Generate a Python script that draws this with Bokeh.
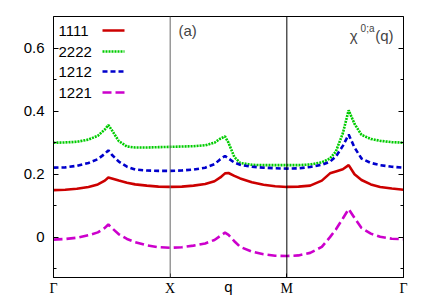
from bokeh.plotting import figure
from bokeh.models import Range1d, LinearAxis, FixedTicker, Span, Label, Arrow, CustomJSTickFormatter
from bokeh.embed import file_html
from bokeh.resources import INLINE

# path coordinate along Gamma-X-M-Gamma (each segment of unit length)
kpath = [0.00, 0.10, 0.20, 0.30, 0.38, 0.44, 0.47, 0.50, 0.56, 0.63, 0.70, 0.80, 0.90,
         1.00, 1.10, 1.20, 1.30, 1.38, 1.43, 1.47, 1.50, 1.55, 1.60, 1.70, 1.80, 1.90,
         2.00, 2.10, 2.20, 2.30, 2.37, 2.42, 2.48, 2.53, 2.58, 2.64, 2.72, 2.80, 2.90, 3.00]

chi_1111 = [0.150, 0.151, 0.154, 0.160, 0.168, 0.180, 0.190, 0.187, 0.180, 0.173, 0.168, 0.164, 0.161,
            0.160, 0.161, 0.164, 0.169, 0.178, 0.190, 0.203, 0.204, 0.195, 0.187, 0.175, 0.167, 0.162,
            0.160, 0.161, 0.164, 0.180, 0.203, 0.209, 0.216, 0.229, 0.200, 0.182, 0.168, 0.160, 0.155, 0.151]

chi_2222 = [0.300, 0.301, 0.303, 0.310, 0.322, 0.342, 0.356, 0.340, 0.305, 0.288, 0.285, 0.285, 0.286,
            0.287, 0.288, 0.289, 0.292, 0.300, 0.313, 0.320, 0.300, 0.255, 0.236, 0.230, 0.229, 0.229,
            0.229, 0.229, 0.231, 0.238, 0.250, 0.272, 0.330, 0.403, 0.360, 0.325, 0.312, 0.306, 0.302, 0.300]

chi_1212 = [0.221, 0.222, 0.227, 0.236, 0.248, 0.265, 0.276, 0.262, 0.240, 0.224, 0.215, 0.212, 0.211,
            0.211, 0.212, 0.215, 0.221, 0.232, 0.248, 0.258, 0.250, 0.237, 0.230, 0.224, 0.221, 0.219,
            0.218, 0.219, 0.223, 0.230, 0.240, 0.256, 0.290, 0.326, 0.285, 0.250, 0.236, 0.229, 0.224, 0.221]

chi_1221 = [-0.007, -0.005, -0.001, 0.007, 0.016, 0.030, 0.041, 0.030, 0.010, -0.005, -0.015, -0.025, -0.031,
            -0.033, -0.031, -0.026, -0.019, -0.008, 0.005, 0.015, 0.008, -0.012, -0.030, -0.045, -0.053, -0.058,
            -0.059, -0.057, -0.049, -0.030, 0.001, 0.025, 0.060, 0.090, 0.062, 0.030, 0.012, 0.002, -0.004, -0.006]

series_names = ["1111", "2222", "1212", "1221"]
series_values = [chi_1111, chi_2222, chi_1212, chi_1221]
series_colors = ["#cc0000", "#00cc00", "#0000cc", "#cc00cc"]
series_dashes = ["solid", "2 1", "5 3", "9 4"]

x_tick_pos = [0, 1, 2, 3]
x_tick_labels = ["Γ", "X", "M", "Γ"]
x_title = "q"
y_major = [0, 0.2, 0.4, 0.6]
y_minor = [-0.1, 0.1, 0.3, 0.5]

SANS = "Liberation Sans"
SERIF = "Liberation Serif"

p = figure(width=428, height=300, output_backend="svg", toolbar_location=None,
           x_range=Range1d(0, 3), y_range=Range1d(-0.127, 0.7),
           min_border_left=53, min_border_right=25, min_border_top=16, min_border_bottom=23,
           background_fill_color="white", border_fill_color="white")
p.xgrid.visible = False
p.ygrid.visible = False
p.outline_line_color = "black"
p.outline_line_width = 1

# x axis
xa = p.xaxis[0]
xa.ticker = FixedTicker(ticks=x_tick_pos, minor_ticks=[])
xa.major_label_overrides = {t: l for t, l in zip(x_tick_pos, x_tick_labels)}
xa.major_label_text_font = SERIF
xa.major_label_text_font_size = "14px"
xa.major_label_text_color = "black"
xa.major_label_standoff = 3
xa.major_tick_in = 4
xa.major_tick_out = 0
xa.axis_line_color = "black"
xa.axis_label = x_title
xa.axis_label_text_font = SANS
xa.axis_label_text_font_style = "normal"
xa.axis_label_text_font_size = "15px"
xa.axis_label_text_color = "black"
xa.axis_label_standoff = -21

# y axis
ya = p.yaxis[0]
ya.ticker = FixedTicker(ticks=y_major, minor_ticks=y_minor)
ya.major_label_text_font = SANS
ya.major_label_text_font_size = "15px"
ya.major_label_text_color = "black"
ya.major_label_standoff = 9
ya.major_tick_in = 5
ya.major_tick_out = 0
ya.minor_tick_in = 3
ya.minor_tick_out = 0
ya.axis_line_color = "black"

ra = LinearAxis(ticker=FixedTicker(ticks=y_major, minor_ticks=y_minor),
                formatter=CustomJSTickFormatter(code="return ''"),
                major_label_standoff=0,
                major_tick_in=5, major_tick_out=0, minor_tick_in=3, minor_tick_out=0,
                axis_line_color="black")
p.add_layout(ra, "right")

# high-symmetry lines
p.add_layout(Span(location=x_tick_pos[1], dimension="height", line_color="#666666", line_width=1))
p.add_layout(Span(location=x_tick_pos[2], dimension="height", line_color="black", line_width=1))

for name, vals, col, dash in zip(series_names, series_values, series_colors, series_dashes):
    p.line(kpath, vals, line_color=col, line_width=2.6, line_dash=dash)

# legend (label left, sample right)
leg_y = [247, 226, 206, 185]
for name, col, dash, yy in zip(series_names, series_colors, series_dashes, leg_y):
    p.add_layout(Label(x=5, y=yy, x_units="screen", y_units="screen", text=name,
                       text_font=SANS, text_font_size="15px", text_baseline="middle",
                       text_color="black"))
    p.add_layout(Arrow(end=None, x_start=49, y_start=yy, x_end=71, y_end=yy,
                       start_units="screen", end_units="screen",
                       line_color=col, line_width=2.6, line_dash=dash))

p.add_layout(Label(x=125, y=247, x_units="screen", y_units="screen", text="(a)",
                   text_font=SANS, text_font_size="15px", text_baseline="middle"))

# chi^{0;a}(q)
p.add_layout(Label(x=340, y=242, x_units="screen", y_units="screen", text="(q)",
                   text_font=SANS, text_font_size="15px", text_align="right",
                   text_baseline="alphabetic"))
p.add_layout(Label(x=321, y=249, x_units="screen", y_units="screen", text="0;a",
                   text_font=SANS, text_font_size="10px", text_align="right",
                   text_baseline="alphabetic"))
p.add_layout(Label(x=304, y=242, x_units="screen", y_units="screen", text="χ",
                   text_font=SANS, text_font_size="15px", text_align="right",
                   text_baseline="alphabetic"))

open("out.html", "w").write(file_html(p, INLINE))
